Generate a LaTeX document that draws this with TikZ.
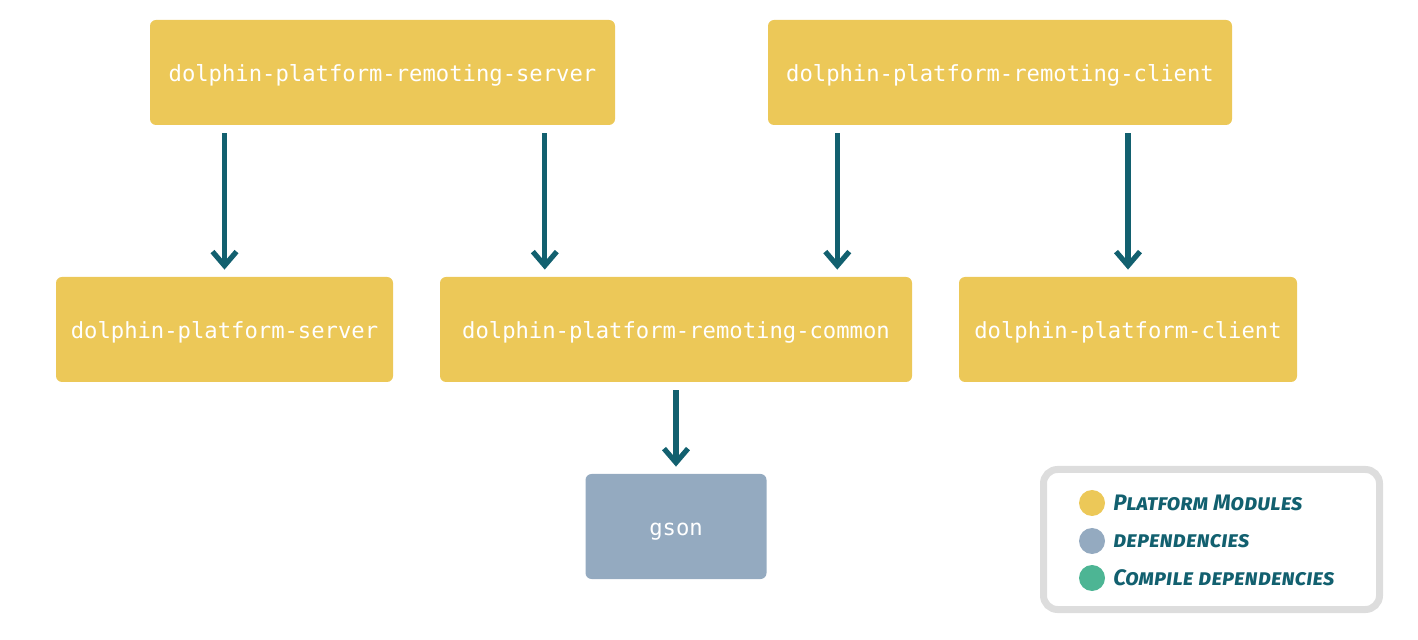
\documentclass[tikz,border=0pt]{standalone}
\usepackage{fontspec}
\setmonofont{DejaVu Sans Mono}
\newfontfamily\legendfont[Letters=SmallCaps]{Fira Sans}
\usetikzlibrary{arrows.meta}
\usetikzlibrary{calc}
\definecolor{modyellow}{HTML}{ECC858}
\definecolor{depblue}{HTML}{94AAC0}
\definecolor{compgreen}{HTML}{4DB594}
\definecolor{arrowteal}{HTML}{12606F}
\definecolor{legendgray}{HTML}{DDDDDD}

\begin{document}
\begin{tikzpicture}[x=0.5pt,y=-0.5pt,
    module/.style={fill=modyellow,rounded corners=3pt,text=white,font=\ttfamily\fontsize{11.1}{13}\selectfont,minimum height=52.5pt,inner sep=0pt,text height=9.5pt,text depth=0pt},
    depend/.style={module,fill=depblue},
    uses/.style={draw=arrowteal,line width=2.6pt,-{Straight Barb[length=7pt,width=12pt,line width=2.6pt]},shorten <=4pt,shorten >=3.5pt},
    dot/.style={circle,inner sep=0pt,minimum size=13pt},
    legendtext/.style={anchor=west,text=arrowteal,font=\legendfont\bfseries\itshape\fontsize{11.2}{13}\selectfont,inner sep=0pt}]
  \useasboundingbox (0,0) rectangle (1418,640);
  \node[module,minimum width=232.5pt] (rserver) at (382.5,72.5) {dolphin-platform-remoting-server};
  \node[module,minimum width=232pt] (rclient) at (1000,72.5) {dolphin-platform-remoting-client};
  \node[module,minimum width=168.5pt] (server) at (224.5,329.5) {dolphin-platform-server};
  \node[module,minimum width=236pt] (rcommon) at (676,329.5) {dolphin-platform-remoting-common};
  \node[module,minimum width=169pt] (client) at (1128,329.5) {dolphin-platform-client};
  \node[depend,minimum width=90.5pt] (gson) at (676,526.5) {gson};
  % dependency arrows
  \coordinate (commonleft) at ($(rcommon.north west)!0.2225!(rcommon.north east)$);
  \coordinate (commonright) at ($(rcommon.north west)!0.8411!(rcommon.north east)$);
  \draw[uses] (rserver.south -| server.north) -- (server.north);
  \draw[uses] (rserver.south -| commonleft) -- (commonleft);
  \draw[uses] (rclient.south -| commonright) -- (commonright);
  \draw[uses] (rclient.south -| client.north) -- (client.north);
  \draw[uses] (rcommon.south) -- (gson.north);
  % legend
  \draw[legendgray,line width=3.5pt,rounded corners=7pt] (1043.5,469.5) rectangle (1379.5,609.5);
  \node[dot,fill=modyellow] (dotmod) at (1092,503) {};
  \node[dot,fill=depblue] (dotdep) at (1092,541) {};
  \node[dot,fill=compgreen] (dotcomp) at (1092,578) {};
  \node[legendtext] (txtmod) at (1113,503) {Platform Modules};
  \node[legendtext] (txtdep) at (1113,541) {dependencies};
  \node[legendtext] (txtcomp) at (1113,578) {Compile dependencies};
\end{tikzpicture}
\end{document}
